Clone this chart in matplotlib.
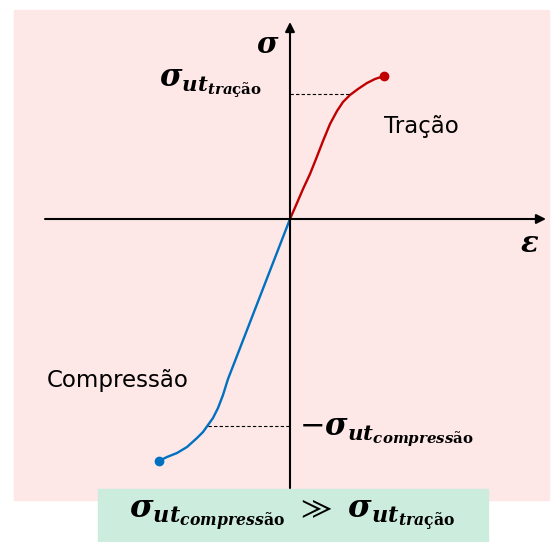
import matplotlib.pyplot as plt
from matplotlib.patches import Rectangle

plt.rcParams['mathtext.fontset'] = 'dejavuserif'

# strain / stress curves (arbitrary units, origin at 0,0)
eps_tracao = [0.0, 0.07, 0.13, 0.20, 0.26, 0.33, 0.40, 0.47, 0.53, 0.60, 0.68, 0.77, 0.85, 0.94]
sig_tracao = [0.0, 0.16, 0.30, 0.45, 0.60, 0.78, 0.95, 1.08, 1.17, 1.24, 1.30, 1.36, 1.40, 1.43]
eps_compressao = [0.0, -0.31, -0.55, -0.62, -0.67, -0.72, -0.77, -0.82, -0.87, -0.93,
                  -1.03, -1.13, -1.23, -1.31]
sig_compressao = [0.0, -0.80, -1.42, -1.60, -1.76, -1.89, -1.99, -2.06, -2.13, -2.19,
                  -2.28, -2.34, -2.38, -2.42]
sig_ut_tracao = 1.25
sig_ut_compressao = -2.07
eps_ut_tracao = 0.60
eps_ut_compressao = -0.82

red = '#C00000'
blue = '#0070C0'

fig = plt.figure(figsize=(5.51, 5.42), dpi=100)
fig.patches.append(Rectangle((14/551, 42/542), 535/551, 490/542,
                             transform=fig.transFigure, color='#FDE7E7', zorder=-2))
fig.patches.append(Rectangle((98/551, 0), 390/551, 53/542,
                             transform=fig.transFigure, color='#CCEDDE', zorder=-1))

ax = fig.add_axes([0, 0, 1, 1])
ax.set_xlim(-2.90, 2.61)
ax.set_ylim(-3.23, 2.19)
ax.axis('off')
ax.patch.set_alpha(0)

# eixos
ax.annotate('', xy=(2.56, 0), xytext=(-2.45, 0),
            arrowprops=dict(arrowstyle='-|>', color='black', lw=1.5,
                            mutation_scale=14, shrinkA=0, shrinkB=0))
ax.annotate('', xy=(0, 1.97), xytext=(0, -2.69),
            arrowprops=dict(arrowstyle='-|>', color='black', lw=1.5,
                            mutation_scale=14, shrinkA=0, shrinkB=0))

# curvas
ax.plot(eps_tracao, sig_tracao, color=red, lw=1.7, solid_joinstyle='round')
ax.plot(eps_tracao[-1], sig_tracao[-1], 'o', color=red, ms=6)
ax.plot(eps_compressao, sig_compressao, color=blue, lw=1.7, solid_joinstyle='round')
ax.plot(eps_compressao[-1], sig_compressao[-1], 'o', color=blue, ms=6)

# linhas tracejadas
ax.plot([0, eps_ut_tracao], [sig_ut_tracao, sig_ut_tracao], 'k--', lw=0.8, dashes=(3, 2))
ax.plot([eps_ut_compressao, 0], [sig_ut_compressao, sig_ut_compressao], 'k--', lw=0.8, dashes=(3, 2))

# textos
ax.text(-0.22, 1.74, r'$\mathbfit{\sigma}$', fontsize=21, ha='center', va='center')
ax.text(2.40, -0.25, r'$\mathbfit{\varepsilon}$', fontsize=21, ha='center', va='center')
ax.text(1.31, 0.93, 'Tração', fontsize=16.5, ha='center', va='center')
ax.text(-1.72, -1.62, 'Compressão', fontsize=16.5, ha='center', va='center')
ax.text(-0.79, 1.35, r'$\mathbfit{\sigma}_{\mathbfit{ut}_{\mathbfit{tra}\mathbf{ção}}}$',
        fontsize=22, ha='center', va='center')
ax.text(0.09, -2.14, r'$-\mathbfit{\sigma}_{\mathbfit{ut}_{\mathbfit{compress}\mathbf{ão}}}$',
        fontsize=22, ha='left', va='center')
ax.text(0.02, -2.96,
        r'$\mathbfit{\sigma}_{\mathbfit{ut}_{\mathbfit{compress}\mathbf{ão}}}\ \gg\ '
        r'\mathbfit{\sigma}_{\mathbfit{ut}_{\mathbfit{tra}\mathbf{ção}}}$',
        fontsize=23, ha='center', va='center')

fig.savefig('out.png', dpi=100)
